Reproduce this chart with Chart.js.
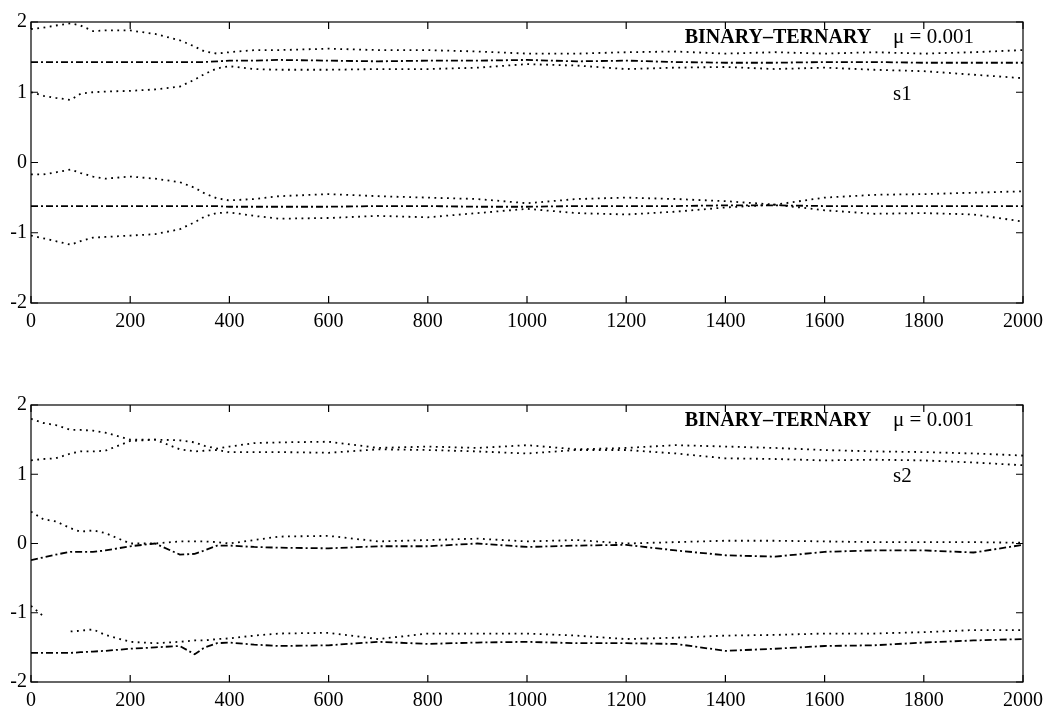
<!DOCTYPE html>
<html>
<head>
<meta charset="utf-8">
<script src="https://cdn.jsdelivr.net/npm/chart.js@4"></script>
<style>
  body { margin: 0; background: #fff; }
  canvas { position: absolute; left: 0; }
  #top { top: 0; }
  #bot { top: 383px; }
</style>
</head>
<body>
<canvas id="top" width="1044" height="340"></canvas>
<canvas id="bot" width="1044" height="324"></canvas>
<script>
// iteration numbers where the coefficient tracks were read
const iters = [0,25,50,80,100,125,150,200,250,300,330,350,375,400,450,500,600,700,800,900,1000,1100,1200,1300,1400,1500,1600,1700,1800,1900,2000];

const xTickLabels = ['0','200','400','600','800','1000','1200','1400','1600','1800','2000'];
const yTickLabels = ['-2','-1','0','1','2'];

// s1 panel
const s1a = [1.90,1.92,1.95,1.98,1.95,1.87,1.88,1.88,1.83,1.74,1.65,1.58,1.55,1.57,1.60,1.60,1.62,1.60,1.60,1.58,1.55,1.55,1.57,1.58,1.55,1.57,1.55,1.57,1.55,1.57,1.60];
const s1b = [1.43,1.43,1.43,1.43,1.43,1.43,1.43,1.43,1.43,1.43,1.43,1.43,1.44,1.45,1.45,1.46,1.45,1.44,1.45,1.45,1.46,1.44,1.45,1.43,1.42,1.42,1.43,1.43,1.42,1.42,1.42];
const s1c = [1.00,0.95,0.92,0.89,0.98,1.00,1.01,1.02,1.04,1.08,1.18,1.26,1.34,1.37,1.33,1.32,1.32,1.33,1.33,1.35,1.40,1.38,1.33,1.35,1.36,1.33,1.35,1.32,1.30,1.25,1.20];
const s1d = [-0.17,-0.17,-0.14,-0.10,-0.15,-0.20,-0.23,-0.20,-0.23,-0.28,-0.36,-0.44,-0.51,-0.54,-0.52,-0.48,-0.45,-0.48,-0.50,-0.52,-0.58,-0.52,-0.50,-0.52,-0.55,-0.60,-0.50,-0.46,-0.45,-0.43,-0.41];
const s1e = [-0.62,-0.62,-0.62,-0.62,-0.62,-0.62,-0.62,-0.62,-0.62,-0.62,-0.62,-0.62,-0.62,-0.63,-0.63,-0.63,-0.63,-0.62,-0.62,-0.63,-0.63,-0.62,-0.62,-0.62,-0.61,-0.61,-0.62,-0.62,-0.62,-0.62,-0.62];
const s1f = [-1.04,-1.08,-1.12,-1.17,-1.12,-1.07,-1.06,-1.04,-1.02,-0.95,-0.85,-0.77,-0.72,-0.71,-0.76,-0.80,-0.79,-0.76,-0.78,-0.72,-0.66,-0.72,-0.74,-0.70,-0.64,-0.60,-0.68,-0.73,-0.72,-0.74,-0.84];

// s2 panel
const s2a = [1.80,1.74,1.71,1.64,1.64,1.63,1.60,1.50,1.50,1.49,1.46,1.41,1.37,1.40,1.45,1.46,1.47,1.38,1.40,1.38,1.42,1.36,1.38,1.42,1.40,1.38,1.35,1.33,1.32,1.30,1.27];
const s2b = [1.20,1.22,1.23,1.30,1.33,1.33,1.34,1.48,1.50,1.36,1.33,1.34,1.35,1.32,1.32,1.32,1.31,1.36,1.35,1.33,1.30,1.35,1.35,1.30,1.23,1.22,1.20,1.21,1.20,1.17,1.13];
const s2c = [0.46,0.35,0.32,0.22,0.17,0.19,0.15,0.00,0.00,0.03,0.03,0.03,0.02,0.00,0.05,0.10,0.11,0.03,0.05,0.07,0.03,0.05,0.00,0.02,0.04,0.04,0.03,0.02,0.02,0.02,0.01];
const s2d = [-0.24,-0.20,-0.16,-0.12,-0.12,-0.12,-0.10,-0.04,0.00,-0.16,-0.15,-0.10,-0.03,-0.03,-0.05,-0.06,-0.07,-0.04,-0.04,0.00,-0.05,-0.03,-0.02,-0.10,-0.17,-0.19,-0.12,-0.10,-0.10,-0.13,-0.02];
const s2e = [-0.90,-1.05,null,-1.27,-1.26,-1.24,-1.32,-1.42,-1.44,-1.42,-1.40,-1.40,-1.38,-1.37,-1.33,-1.30,-1.29,-1.38,-1.30,-1.30,-1.30,-1.33,-1.38,-1.36,-1.33,-1.32,-1.30,-1.30,-1.28,-1.25,-1.25];
const s2f = [-1.58,-1.58,-1.58,-1.58,-1.57,-1.56,-1.55,-1.52,-1.50,-1.48,-1.60,-1.50,-1.44,-1.43,-1.46,-1.48,-1.47,-1.42,-1.45,-1.43,-1.42,-1.44,-1.44,-1.45,-1.55,-1.52,-1.48,-1.47,-1.43,-1.40,-1.38];

const FONT = 'Liberation Serif';
const DOTS = [1.8, 4.5];
const DASHDOT = [7, 3, 2, 3];

function pts(ys) {
  return iters.map((x, i) => ({ x: x, y: ys[i] }));
}

function ds(ys, dash) {
  return {
    data: pts(ys),
    showLine: true,
    borderColor: '#000',
    borderWidth: 1.8,
    borderDash: dash,
    pointRadius: 0,
    tension: 0,
    spanGaps: false
  };
}

// frame, inward ticks and the panel texts
const frame = {
  id: 'frame',
  afterDraw(chart, args, opts) {
    const ctx = chart.ctx;
    const a = chart.chartArea;
    const xs = chart.scales.x, ys = chart.scales.y;
    ctx.save();
    ctx.strokeStyle = '#000';
    ctx.lineWidth = 1.2;
    ctx.strokeRect(a.left, a.top, a.right - a.left, a.bottom - a.top);
    ctx.beginPath();
    for (let v = 0; v <= 2000; v += 200) {
      const px = xs.getPixelForValue(v);
      ctx.moveTo(px, a.bottom); ctx.lineTo(px, a.bottom - 7);
      ctx.moveTo(px, a.top); ctx.lineTo(px, a.top + 7);
    }
    for (let v = -2; v <= 2; v += 1) {
      const py = ys.getPixelForValue(v);
      ctx.moveTo(a.left, py); ctx.lineTo(a.left + 7, py);
      ctx.moveTo(a.right, py); ctx.lineTo(a.right - 7, py);
    }
    ctx.stroke();

    ctx.fillStyle = '#000';
    ctx.textBaseline = 'alphabetic';
    ctx.font = 'bold 20px "' + FONT + '"';
    ctx.fillText('BINARY–TERNARY', xs.getPixelForValue(1318), ys.getPixelForValue(1.70));
    ctx.font = '21px "' + FONT + '"';
    ctx.fillText('μ = 0.001', xs.getPixelForValue(1738), ys.getPixelForValue(1.70));
    ctx.fillText(opts.tag, xs.getPixelForValue(1738), ys.getPixelForValue(0.89));
    ctx.restore();
  }
};

function makeChart(id, sets, tag, axisH) {
  return new Chart(document.getElementById(id), {
    type: 'scatter',
    data: { datasets: sets },
    options: {
      responsive: false,
      animation: false,
      devicePixelRatio: 1,
      layout: { padding: { top: 22, right: 21, left: 0, bottom: 0 } },
      plugins: {
        legend: { display: false },
        tooltip: { enabled: false },
        frame: { tag: tag }
      },
      scales: {
        x: {
          type: 'linear', min: 0, max: 2000,
          grid: { display: false, drawTicks: false },
          border: { display: false },
          ticks: {
            stepSize: 200, padding: 7, color: '#000',
            font: { family: FONT, size: 20 },
            maxRotation: 0,
            callback: (v) => xTickLabels[v / 200]
          },
          afterFit: (s) => { s.height = axisH; s.paddingRight = 0; s.paddingLeft = 0; }
        },
        y: {
          type: 'linear', min: -2, max: 2,
          grid: { display: false, drawTicks: false },
          border: { display: false },
          ticks: {
            stepSize: 1, padding: 4, color: '#000',
            font: { family: FONT, size: 20 },
            callback: (v) => yTickLabels[v + 2]
          },
          afterFit: (s) => { s.width = 31; }
        }
      }
    },
    plugins: [frame]
  });
}

makeChart('top', [
  ds(s1a, DOTS), ds(s1b, DASHDOT), ds(s1c, DOTS),
  ds(s1d, DOTS), ds(s1e, DASHDOT), ds(s1f, DOTS)
], 's1', 37);

makeChart('bot', [
  ds(s2a, DOTS), ds(s2b, DOTS), ds(s2c, DOTS),
  ds(s2d, DASHDOT), ds(s2e, DOTS), ds(s2f, DASHDOT)
], 's2', 25);
</script>
</body>
</html>
